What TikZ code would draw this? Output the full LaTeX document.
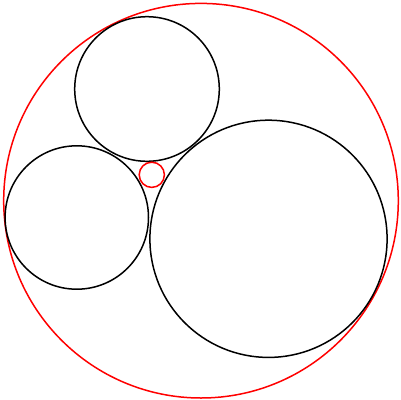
\documentclass[tikz,border=0pt]{standalone}
\begin{document}
\begin{tikzpicture}[x=1bp,y=-1bp,
  blackcirc/.style={draw=black,line width=1.5bp},
  redcirc/.style={draw=red,line width=1.5bp}]
\useasboundingbox (0,0) rectangle (401,400);
\coordinate (O) at (201,200.7);
\coordinate (L) at (76.8,217.5);
\coordinate (T) at (147,89);
\coordinate (R) at (268.5,238.8);
\coordinate (I) at (151.8,174.8);
\draw[redcirc] (O) circle[radius=197.3bp];
\draw[blackcirc] (T) circle[radius=72.3bp];
\draw[blackcirc] (L) circle[radius=71.7bp];
\draw[blackcirc] (R) circle[radius=118.6bp];
\draw[redcirc] (I) circle[radius=12.6bp];
\end{tikzpicture}
\end{document}
